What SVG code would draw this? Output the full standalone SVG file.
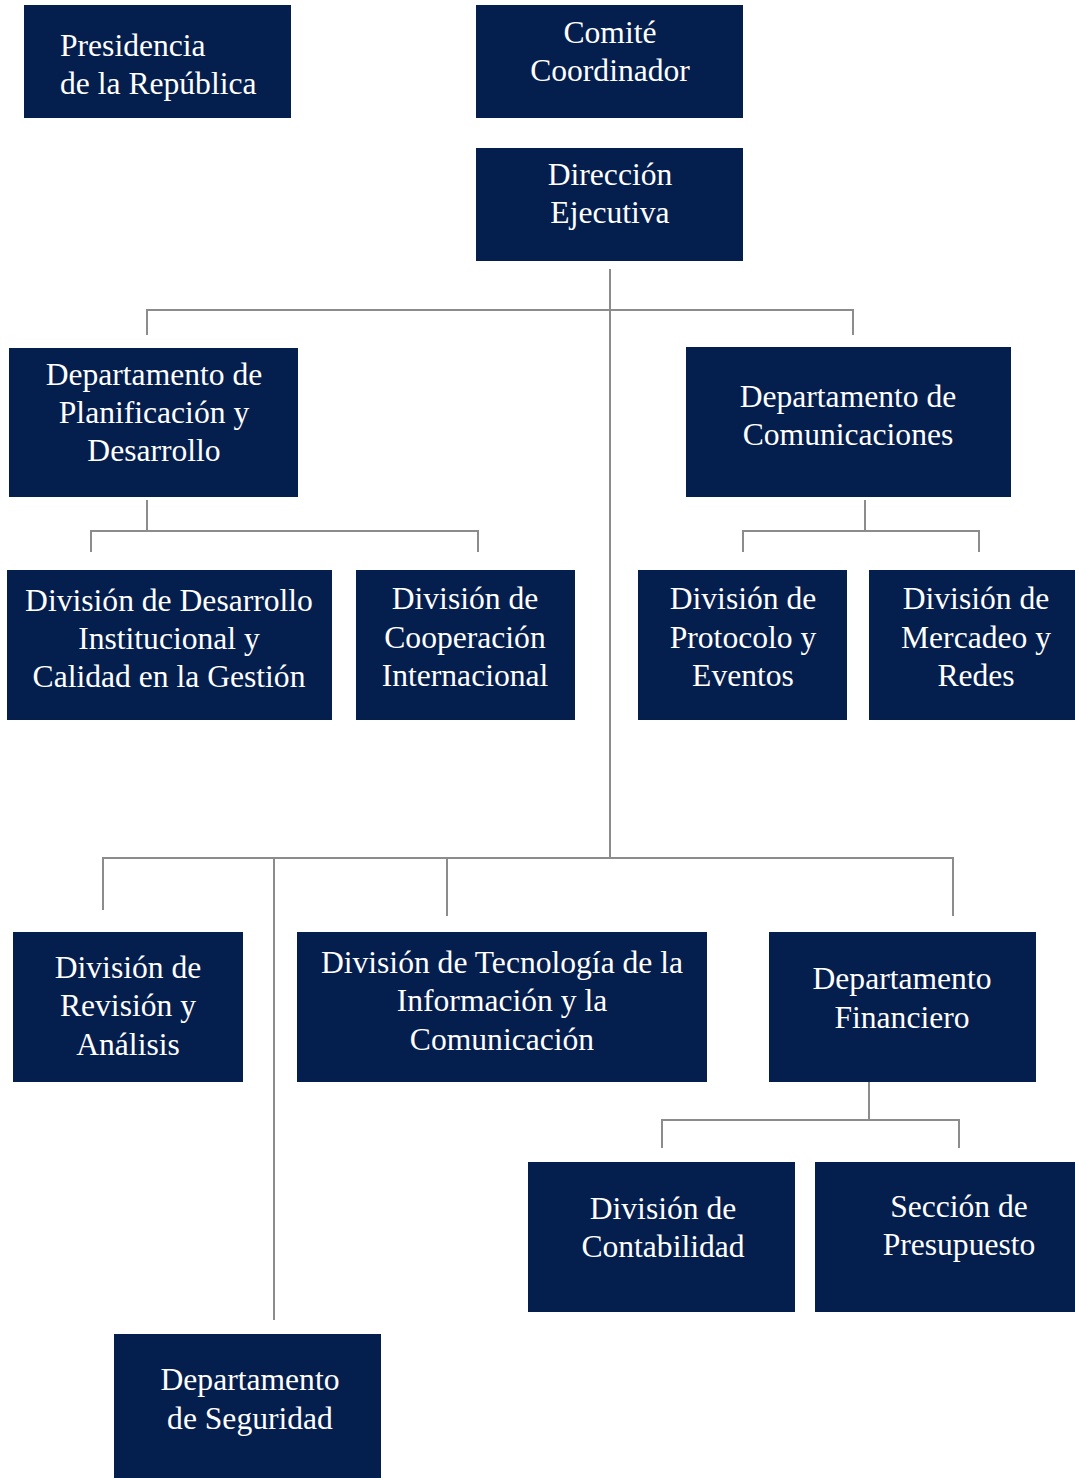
<svg xmlns="http://www.w3.org/2000/svg" width="1075" height="1478" viewBox="0 0 1075 1478">
<style>
.box{fill:#041e4e}
.t{font-family:"Liberation Serif","Times New Roman",serif;font-size:31.6px;fill:#ffffff;text-anchor:middle}
.tl{text-anchor:start}
.c{stroke:#8c8c8c;stroke-width:2;fill:none}
</style>
<rect width="1075" height="1478" fill="#ffffff"/>
<g id="connectors">
<path class="c" d="M610 269V858"/>
<path class="c" d="M147 335V310H853V335"/>
<path class="c" d="M147 500V531M91 552V531H478V552"/>
<path class="c" d="M865 500V531M743 552V531H979V552"/>
<path class="c" d="M103 910V858H953V916M274 858V1320M447 858V916"/>
<path class="c" d="M869 1082V1120M662 1148V1120H959V1148"/>
</g>
<g id="presidencia"><rect class="box" x="24" y="5" width="267" height="113"/><text class="t tl" x="60" y="56">Presidencia</text><text class="t tl" x="60" y="94">de la República</text></g>
<g id="comite"><rect class="box" x="476" y="5" width="267" height="113"/><text class="t" x="610" y="43">Comité</text><text class="t" x="610" y="81">Coordinador</text></g>
<g id="direccion"><rect class="box" x="476" y="148" width="267" height="113"/><text class="t" x="610" y="185">Dirección</text><text class="t" x="610" y="223">Ejecutiva</text></g>
<g id="planificacion"><rect class="box" x="9" y="348" width="289" height="149"/><text class="t" x="154" y="385">Departamento de</text><text class="t" x="154" y="423">Planificación y</text><text class="t" x="154" y="461">Desarrollo</text></g>
<g id="comunicaciones"><rect class="box" x="686" y="347" width="325" height="150"/><text class="t" x="848" y="407">Departamento de</text><text class="t" x="848" y="445">Comunicaciones</text></g>
<g id="desarrollo-institucional"><rect class="box" x="7" y="570" width="325" height="150"/><text class="t" x="169" y="611">División de Desarrollo</text><text class="t" x="169" y="649">Institucional y</text><text class="t" x="169" y="687">Calidad en la Gestión</text></g>
<g id="cooperacion"><rect class="box" x="356" y="570" width="219" height="150"/><text class="t" x="465" y="609">División de</text><text class="t" x="465" y="648">Cooperación</text><text class="t" x="465" y="686">Internacional</text></g>
<g id="protocolo"><rect class="box" x="638" y="570" width="209" height="150"/><text class="t" x="743" y="609">División de</text><text class="t" x="743" y="648">Protocolo y</text><text class="t" x="743" y="686">Eventos</text></g>
<g id="mercadeo"><rect class="box" x="869" y="570" width="206" height="150"/><text class="t" x="976" y="609">División de</text><text class="t" x="976" y="648">Mercadeo y</text><text class="t" x="976" y="686">Redes</text></g>
<g id="revision"><rect class="box" x="13" y="932" width="230" height="150"/><text class="t" x="128" y="978">División de</text><text class="t" x="128" y="1016">Revisión y</text><text class="t" x="128" y="1055">Análisis</text></g>
<g id="tecnologia"><rect class="box" x="297" y="932" width="410" height="150"/><text class="t" x="502" y="973">División de Tecnología de la</text><text class="t" x="502" y="1011">Información y la</text><text class="t" x="502" y="1050">Comunicación</text></g>
<g id="financiero"><rect class="box" x="769" y="932" width="267" height="150"/><text class="t" x="902" y="989">Departamento</text><text class="t" x="902" y="1028">Financiero</text></g>
<g id="contabilidad"><rect class="box" x="528" y="1162" width="267" height="150"/><text class="t" x="663" y="1219">División de</text><text class="t" x="663" y="1257">Contabilidad</text></g>
<g id="presupuesto"><rect class="box" x="815" y="1162" width="260" height="150"/><text class="t" x="959" y="1217">Sección de</text><text class="t" x="959" y="1255">Presupuesto</text></g>
<g id="seguridad"><rect class="box" x="114" y="1334" width="267" height="144"/><text class="t" x="250" y="1390">Departamento</text><text class="t" x="250" y="1429">de Seguridad</text></g>
</svg>
